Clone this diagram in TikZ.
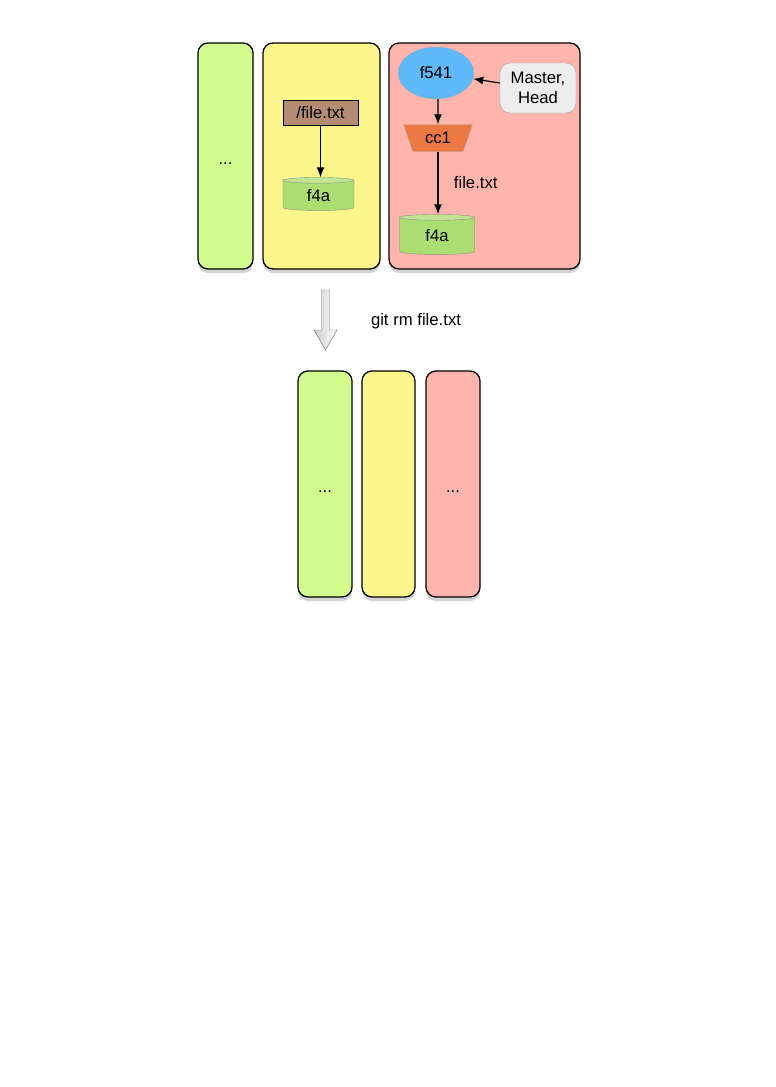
\documentclass[tikz,border=0pt]{standalone}
\usepackage{fontspec}
\setmainfont{Liberation Sans}
\usepackage{tikz}
\usetikzlibrary{shapes.geometric, shadows, positioning}
\usetikzlibrary{arrows.meta}
\tikzset{>={Latex[length=10pt,width=8pt]}}
\usepackage{xcolor}
\definecolor{lanegreen}{HTML}{D3FC8F}
\definecolor{laneyellow}{HTML}{FDF68C}
\definecolor{lanered}{HTML}{FFB4AC}
\definecolor{treebrown}{HTML}{B38C73}
\definecolor{commitblue}{HTML}{5EB8FA}
\definecolor{cmtorange}{HTML}{EC7843}
\definecolor{blobgreen}{HTML}{ABDD70}
\tikzset{
  lane/.style={draw, line width=1.3pt, rounded corners=10pt, minimum height=226pt,
    text height=16pt, text depth=0pt,
    drop shadow={opacity=0.35, shadow xshift=0pt, shadow yshift=-4pt}},
  blob/.style={cylinder, shape border rotate=90, aspect=0.25, draw=black!45, inner sep=0pt,
    cylinder uses custom fill, cylinder body fill=blobgreen, cylinder end fill=blobgreen!75!white},
  link/.style={->, line width=1.2pt},
}

\begin{document}
\begin{tikzpicture}[x=1pt, y=-1pt, font=\fontsize{16.7}{19.5}\selectfont]
				\useasboundingbox (0,0) rectangle (776,1087);
				% before
				\node[lane, fill=lanegreen, minimum width=55pt] (wd) at (225.5,156) {...};
				\node[lane, fill=laneyellow, minimum width=117pt] (idx) at (321.5,156) {};
				\node[lane, fill=lanered, minimum width=191pt] (repo) at (484.5,156) {};
				\node[draw, fill=treebrown, minimum width=75pt, minimum height=25pt, inner sep=0pt] (tree) at (320.5,112.5) {/file.txt};
				\node[blob, minimum width=71pt, minimum height=33pt] (blobidx) at (318.5,195.5) {f4a};
				\draw [link] (tree) -- (tree |- blobidx.north);
				\node[ellipse, fill=commitblue, draw=black!30, minimum width=76pt, minimum height=52pt, inner sep=0pt] (f541) at (436,73) {f541};
				\node[draw=black!35, fill=black!7, rounded corners=10pt, minimum width=76pt, minimum height=50pt, align=center, inner sep=0pt] (master) at (538,88) {Master,\\Head};
				\draw [link] ([yshift=5pt]master.west) -- (f541);
				\node[trapezium, shape border rotate=180, trapezium stretches=true, trapezium angle=68, fill=cmtorange, draw=black!30, minimum width=69pt, minimum height=27pt, inner sep=0pt] (cc1) at (438,138) {cc1};
				\draw [link] (f541.south -| cc1) -- (cc1);
				\node[blob, minimum width=75pt, minimum height=40pt] (blobrepo) at (437,236) {f4a};
				\draw [link] (cc1.south) -- (cc1.south |- blobrepo.north) node[midway, right=12pt] {file.txt};
				% command
				\draw [black!60, left color=black!20, right color=white] (321.5,290) -- (329.5,290) -- (329.5,330) -- (337,330) -- (325.5,350) -- (314,330) -- (321.5,330) -- cycle;
				\node (cmd) at (416,321) {git rm file.txt};
				% after
				\node[lane, fill=lanegreen, minimum width=54pt] (wd2) at (325,484) {...};
				\node[lane, fill=laneyellow, minimum width=53pt] (idx2) at (388.5,484) {};
				\node[lane, fill=lanered, minimum width=54pt] (repo2) at (453,484) {...};
			\end{tikzpicture}
\end{document}
